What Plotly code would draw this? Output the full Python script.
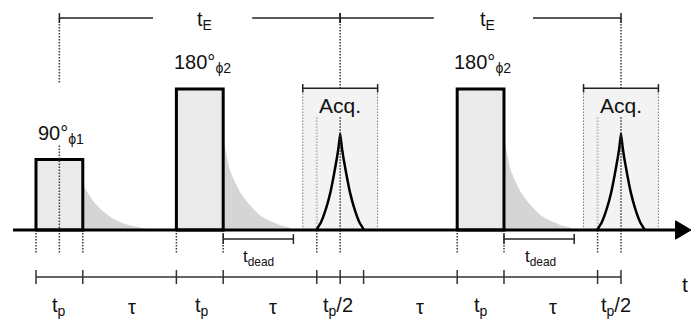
import plotly.graph_objects as go

# ---------------- data (time in units of t_p, amplitude in units of the 90° pulse) -------------
pulse_start = [0, 3, 9]
pulse_end = [1, 4, 10]
pulse_amp = [1, 2, 2]
pulse_text = ["90°<sub>ϕ1</sub>", "180°<sub>ϕ2</sub>", "180°<sub>ϕ2</sub>"]
pulse_text_t = [0.53, 3.55, 9.55]
pulse_text_amp = [1.36, 2.36, 2.36]

# free-induction decays after each pulse
fid_start = [1, 4, 10]
fid90_dt = [0, 0.2, 0.41, 0.63, 0.84, 1.06, 1.35, 1.45]
fid90_amp = [0.64, 0.43, 0.28, 0.17, 0.10, 0.057, 0.02, 0]
fid180_dt = [0, 0.143, 0.357, 0.57, 0.78, 1.0, 1.21, 1.42, 1.5]
fid180_amp = [1.32, 0.85, 0.54, 0.355, 0.21, 0.13, 0.07, 0.03, 0]

# echoes (half-profile, mirrored about the centre)
echo_center = [6.5, 12.5]
echo_dt = [0, 0.035, 0.07, 0.135, 0.207, 0.30, 0.41, 0.51]
echo_amp = [1.37, 1.17, 1.02, 0.78, 0.54, 0.31, 0.11, 0]

# acquisition windows
acq_half = 0.8
acq_top = 2.01
acq_text_amp = 1.77
pre_acq_t = [6, 12]
pre_acq_top = 1.6

# bottom timeline
seg_ticks = [0, 1, 3, 4, 6, 6.5, 7, 9, 10, 12, 12.5]
seg_labels = ["t<sub>p</sub>", "τ", "t<sub>p</sub>", "τ", "t<sub>p</sub>/2",
              "τ", "t<sub>p</sub>", "τ", "t<sub>p</sub>/2"]
seg_label_t = [0.5, 2.05, 3.55, 5.07, 6.45, 8.2, 9.5, 11.05, 12.4]
timeline_amp = -0.667
seg_label_amp = -1.09

# dotted drop lines below the baseline
drop_t = [0, 0.5, 1, 3, 4, 6, 6.5, 9, 10, 12, 12.5]
drop_bottom = -0.33

# echo time brackets
te_start = [0.5, 6.5]
te_end = [6.5, 12.5]
te_gap_start = [2.5, 8.5]
te_gap_end = [4.62, 10.62]
te_label_t = [3.6, 9.64]
te_amp = 3.007

# dead-time brackets
dead_start = [4, 10]
dead_len = 1.5
dead_label_t = [4.75, 10.77]
dead_amp = -0.128
dead_label_amp = -0.40

# axis
axis_start = -0.49
axis_end = 13.996
X_RANGE = [-0.769, 13.996]
Y_RANGE = [-1.376, 3.262]

FONT = "Liberation Sans, Arial, sans-serif"
DOT = "1.5px,1.5px"
fig = go.Figure()


def add_line(xs, ys, color="black", width=1.5, dash="solid"):
    fig.add_trace(go.Scatter(x=xs, y=ys, mode="lines", hoverinfo="skip",
                             line=dict(color=color, width=width, dash=dash)))


# acquisition windows (background)
for c in echo_center:
    x0, x1 = c - acq_half, c + acq_half
    fig.add_trace(go.Scatter(x=[x0, x1, x1, x0, x0], y=[0, 0, acq_top, acq_top, 0],
                             mode="lines", fill="toself", fillcolor="#f3f3f3",
                             line=dict(width=0), hoverinfo="skip"))
    add_line([x0, x0, None, x1, x1], [0, acq_top, None, 0, acq_top],
             color="#777777", width=1, dash=DOT)
for t in pre_acq_t:
    add_line([t, t], [0, pre_acq_top], color="#c4c4c4", width=2.5, dash=DOT)

# FID decays
for i, t0 in enumerate(fid_start):
    dts = fid90_dt if i == 0 else fid180_dt
    amps = fid90_amp if i == 0 else fid180_amp
    xs = [t0 + d for d in dts] + [t0 + dts[-1], t0]
    ys = list(amps) + [0, 0]
    fig.add_trace(go.Scatter(x=xs, y=ys, mode="lines", fill="toself",
                             fillcolor="#d5d5d5", line=dict(width=0, shape="spline",
                                                            smoothing=0.6),
                             hoverinfo="skip"))

# pulses
for s, e, a in zip(pulse_start, pulse_end, pulse_amp):
    fig.add_trace(go.Scatter(x=[s, e, e, s, s], y=[0, 0, a, a, 0], mode="lines",
                             fill="toself", fillcolor="#eaeaea",
                             line=dict(color="black", width=3), hoverinfo="skip"))

# echoes
for c in echo_center:
    xs = [c - d for d in reversed(echo_dt)] + [c + d for d in echo_dt[1:]]
    ys = list(reversed(echo_amp)) + list(echo_amp[1:])
    fig.add_trace(go.Scatter(x=xs, y=ys, mode="lines", hoverinfo="skip",
                             line=dict(color="black", width=2.5, shape="spline",
                                       smoothing=0.4)))

# dotted verticals
dx, dy = [], []
for t in drop_t:
    dx += [t, t, None]
    dy += [0, drop_bottom, None]
# through the 90° pulse and the echo centres
dx += [0.5, 0.5, None, 0.5, 0.5, None]
dy += [te_amp, 2.085, None, 1.2, 0, None]
for c in echo_center:
    dx += [c, c, None, c, c, None]
    dy += [te_amp, acq_top, None, 1.6, 0, None]
add_line(dx, dy, color="#3a3a3a", width=1.5, dash=DOT)

# baseline and arrow
add_line([axis_start, axis_end - 0.3], [0, 0], width=3.2)
fig.add_trace(go.Scatter(x=[axis_end - 0.33, axis_end, axis_end - 0.33, axis_end - 0.33],
                         y=[0.13, 0, -0.13, 0.13], mode="lines", fill="toself",
                         fillcolor="black", line=dict(color="black", width=1),
                         hoverinfo="skip"))

# acquisition brackets
bx, by = [], []
for c in echo_center:
    x0, x1 = c - acq_half, c + acq_half
    bx += [x0, x1, None, x0, x0, None, x1, x1, None]
    by += [acq_top, acq_top, None, acq_top - 0.06, acq_top + 0.06, None,
           acq_top - 0.06, acq_top + 0.06, None]
add_line(bx, by, color="#222222", width=1.5)

# t_E brackets
tx, ty = [], []
for s, e, g0, g1 in zip(te_start, te_end, te_gap_start, te_gap_end):
    tx += [s, g0, None, g1, e, None, s, s, None, e, e, None]
    ty += [te_amp, te_amp, None, te_amp, te_amp, None,
           te_amp - 0.07, te_amp + 0.07, None, te_amp - 0.07, te_amp + 0.07, None]
add_line(tx, ty, color="#222222", width=1.5)

# dead-time brackets
kx, ky = [], []
for s in dead_start:
    e = s + dead_len
    kx += [s, e, None, s, s, None, e, e, None]
    ky += [dead_amp, dead_amp, None, dead_amp - 0.07, dead_amp + 0.07, None,
           dead_amp - 0.07, dead_amp + 0.07, None]
add_line(kx, ky, color="#222222", width=1.5)

# bottom timeline
lx, ly = [seg_ticks[0], seg_ticks[-1], None], [timeline_amp, timeline_amp, None]
for t in seg_ticks:
    lx += [t, t, None]
    ly += [timeline_amp - 0.1, timeline_amp + 0.1, None]
add_line(lx, ly, color="#333333", width=1.5)

# ---------------- text ----------------
ann = []
for txt, t, a in zip(pulse_text, pulse_text_t, pulse_text_amp):
    ann.append(dict(x=t, y=a, text=txt, font=dict(size=20)))
for c in echo_center:
    ann.append(dict(x=c, y=acq_text_amp, text="Acq.", font=dict(size=21)))
for t in te_label_t:
    ann.append(dict(x=t, y=te_amp - 0.03, text="t<sub>E</sub>", font=dict(size=20)))
for t in dead_label_t:
    ann.append(dict(x=t, y=dead_label_amp, text="t<sub>dead</sub>", font=dict(size=17)))
for txt, t in zip(seg_labels, seg_label_t):
    ann.append(dict(x=t, y=seg_label_amp, text=txt, font=dict(size=20)))
ann.append(dict(x=13.87, y=-0.78, text="t", font=dict(size=21)))
for a in ann:
    a.update(xref="x", yref="y", showarrow=False, xanchor="center", yanchor="middle")
    a["font"].update(family=FONT, color="#111111")

fig.update_layout(
    width=691, height=327, margin=dict(l=0, r=0, t=0, b=0),
    paper_bgcolor="white", plot_bgcolor="white", showlegend=False,
    xaxis=dict(range=X_RANGE, visible=False, fixedrange=True),
    yaxis=dict(range=Y_RANGE, visible=False, fixedrange=True),
    annotations=ann,
)
fig.write_html("out.html")
